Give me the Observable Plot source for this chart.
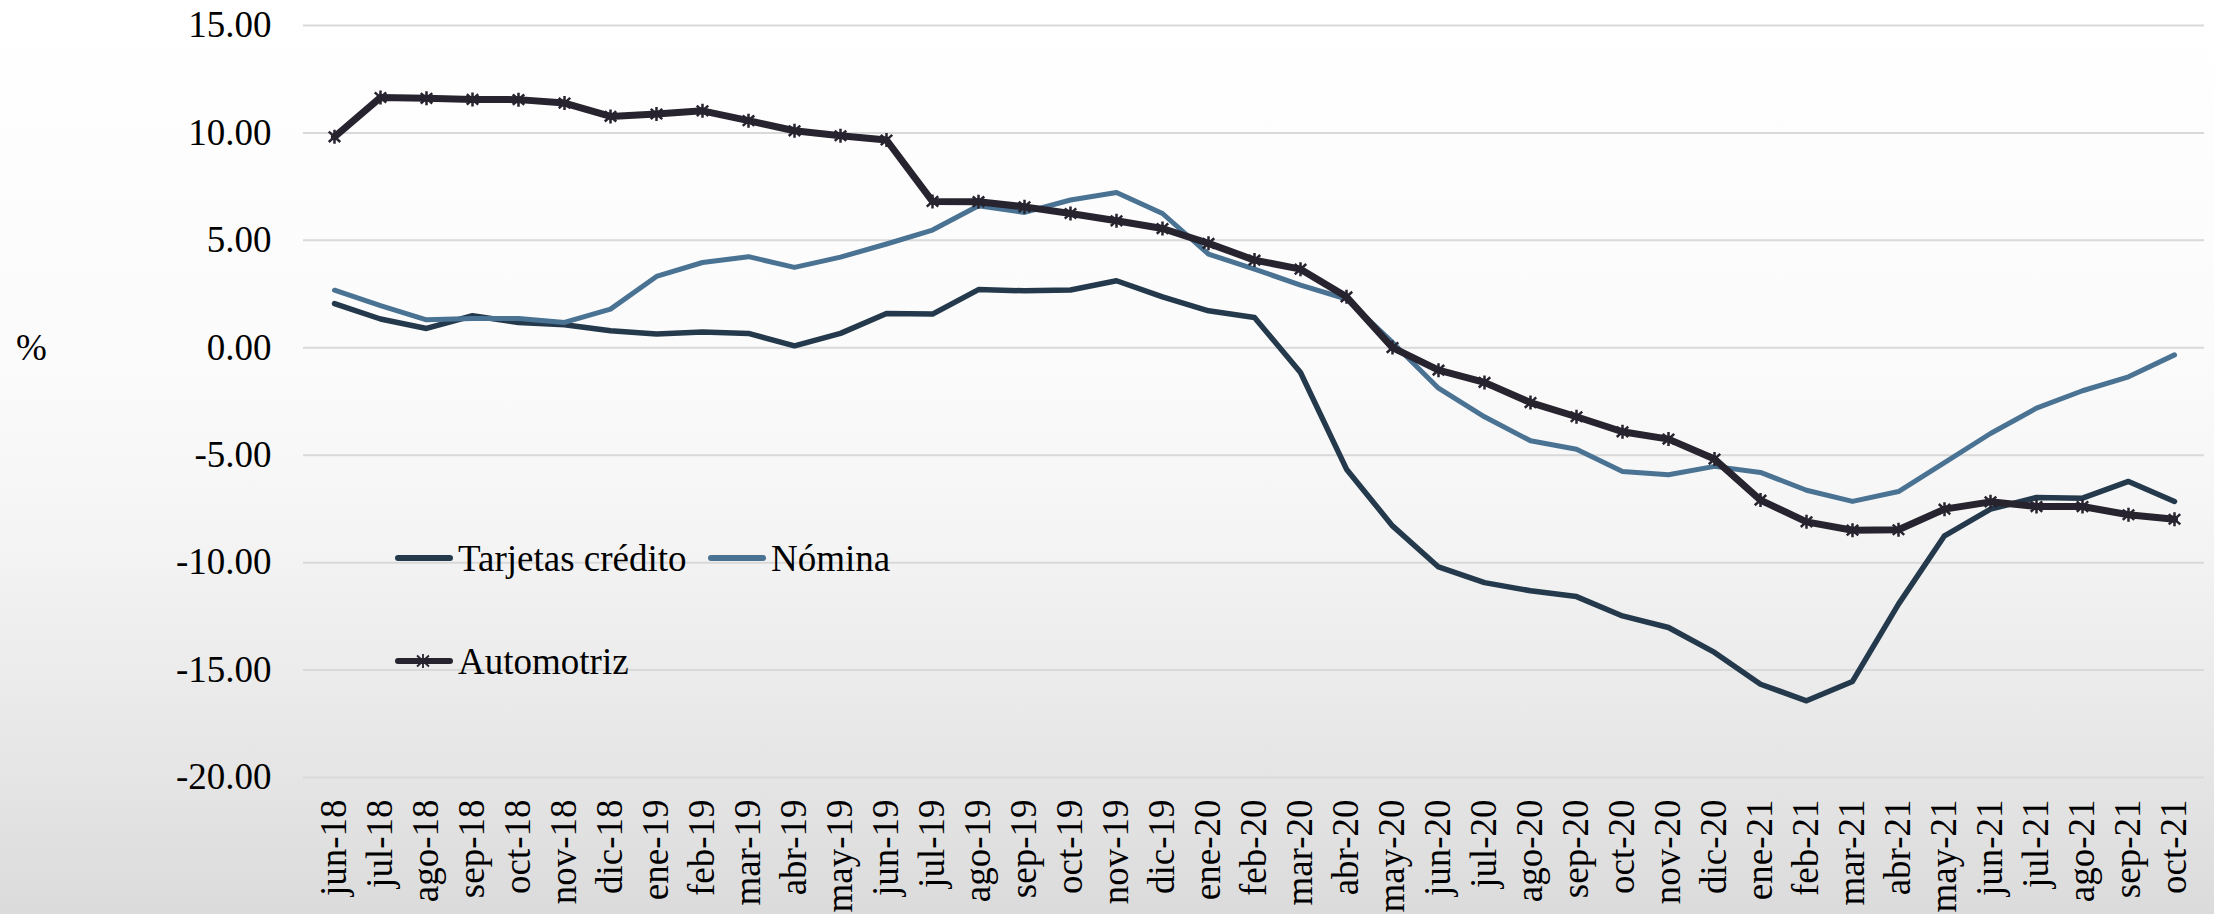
<!DOCTYPE html>
<html>
<head>
<meta charset="utf-8">
<script src="https://cdn.jsdelivr.net/npm/d3@7"></script>
<script src="https://cdn.jsdelivr.net/npm/@observablehq/plot@0.6"></script>
<style>
  html, body { margin: 0; padding: 0; }
  body {
    width: 2214px; height: 914px; overflow: hidden;
    background: linear-gradient(to bottom, #ffffff 0%, #fbfbfb 38%, #f6f6f6 55%, #e8e8e8 80%, #dbdbdb 100%);
    font-family: "Liberation Serif", "Times New Roman", Tinos, "DejaVu Serif", serif;
  }
  #wrap { position: relative; width: 2214px; height: 914px; }
  #chart svg { display: block; }
  #chart svg text { font-family: "Liberation Serif", "Times New Roman", Tinos, "DejaVu Serif", serif; }
  .unit { position: absolute; left: 16px; top: 326px; font-size: 37px; color: #000; }
  .leg { position: absolute; display: flex; align-items: center; font-size: 37px; color: #000; height: 44px; }
  .leg svg { display: block; margin-right: 4px; }
</style>
</head>
<body>
<div id="wrap">
  <div id="chart"></div>
  <div class="unit">%</div>
  <div id="legend"></div>
</div>
<script>
const months = ["jun-18","jul-18","ago-18","sep-18","oct-18","nov-18","dic-18",
  "ene-19","feb-19","mar-19","abr-19","may-19","jun-19","jul-19","ago-19","sep-19","oct-19","nov-19","dic-19",
  "ene-20","feb-20","mar-20","abr-20","may-20","jun-20","jul-20","ago-20","sep-20","oct-20","nov-20","dic-20",
  "ene-21","feb-21","mar-21","abr-21","may-21","jun-21","jul-21","ago-21","sep-21","oct-21"];

const tarjetas = [2.06,1.34,0.90,1.49,1.18,1.07,0.79,0.64,0.74,0.67,
  0.09,0.67,1.60,1.57,2.71,2.65,2.69,3.12,2.37,1.72,
  1.41,-1.15,-5.65,-8.29,-10.20,-10.93,-11.31,-11.58,-12.48,-13.02,
  -14.18,-15.66,-16.43,-15.53,-11.93,-8.75,-7.51,-6.97,-7.00,-6.22,-7.15];

const nomina = [2.68,1.96,1.30,1.36,1.36,1.18,1.80,3.32,3.97,4.24,
  3.74,4.22,4.83,5.48,6.61,6.30,6.88,7.23,6.25,4.36,
  3.66,2.92,2.27,0.25,-1.88,-3.21,-4.33,-4.72,-5.76,-5.91,
  -5.52,-5.80,-6.63,-7.15,-6.69,-5.35,-3.99,-2.81,-2.00,-1.35,-0.33];

const automotriz = [9.82,11.65,11.61,11.56,11.55,11.39,10.77,10.88,11.03,10.57,
  10.10,9.87,9.67,6.81,6.80,6.56,6.25,5.91,5.55,4.86,
  4.08,3.66,2.37,0.01,-1.04,-1.61,-2.55,-3.21,-3.91,-4.25,
  -5.18,-7.09,-8.10,-8.49,-8.47,-7.51,-7.17,-7.39,-7.39,-7.77,-7.98];

const seriesNames = ["Tarjetas crédito", "Nómina", "Automotriz"];
const seriesColors = ["#243a4c", "#4a7293", "#27232f"];
const yTicks = [-20, -15, -10, -5, 0, 5, 10, 15];

const rows = (vals, name) => months.map((m, i) => ({month: m, value: vals[i], serie: name}));
const dT = rows(tarjetas, seriesNames[0]);
const dN = rows(nomina, seriesNames[1]);
const dA = rows(automotriz, seriesNames[2]);

// asterisk symbol (vertical + X)
const asterisk = {
  draw(ctx, size) {
    const r = Math.sqrt(size / Math.PI);
    const d = r * 0.82;
    ctx.moveTo(0, -r); ctx.lineTo(0, r);
    ctx.moveTo(-d, -d * 0.9); ctx.lineTo(d, d * 0.9);
    ctx.moveTo(-d, d * 0.9); ctx.lineTo(d, -d * 0.9);
  }
};

const serif = "'Liberation Serif', 'Times New Roman', Tinos, 'DejaVu Serif', serif";

const chart = Plot.plot({
  width: 2214,
  height: 914,
  marginLeft: 303,
  marginRight: 10,
  marginTop: 25,
  marginBottom: 137,
  style: {background: "transparent", fontFamily: serif, fontSize: "37px", color: "#000"},
  x: {type: "point", domain: months, padding: 0.5, align: 0.5},
  y: {domain: [-20, 15]},
  marks: [
    Plot.ruleY(yTicks, {stroke: "#d9d9d9", strokeWidth: 2}),
    Plot.axisY({ticks: yTicks, tickSize: 0, tickPadding: 32, tickFormat: d => d.toFixed(2), label: null, fontSize: 37, fontFamily: serif}),
    Plot.axisX({tickSize: 0, tickRotate: -90, tickPadding: 22, label: null, fontSize: 37, fontFamily: serif}),
    Plot.line(dT, {x: "month", y: "value", stroke: seriesColors[0], strokeWidth: 5.5}),
    Plot.line(dN, {x: "month", y: "value", stroke: seriesColors[1], strokeWidth: 5}),
    Plot.line(dA, {x: "month", y: "value", stroke: seriesColors[2], strokeWidth: 7}),
    Plot.dot(dA, {x: "month", y: "value", symbol: asterisk, r: 7, stroke: seriesColors[2], strokeWidth: 2.5, fill: "none"})
  ]
});
document.getElementById("chart").appendChild(chart);

// legend
const legendPos = [
  {left: 394, top: 536},
  {left: 707, top: 536},
  {left: 394, top: 639}
];
const legend = document.getElementById("legend");
seriesNames.forEach((name, i) => {
  const div = document.createElement("div");
  div.className = "leg";
  div.style.left = legendPos[i].left + "px";
  div.style.top = legendPos[i].top + "px";
  const marker = i === 2
    ? `<path d="M29,15 L29,29 M23,16.5 L35,27.5 M23,27.5 L35,16.5" stroke="${seriesColors[i]}" stroke-width="1.8" fill="none"/>`
    : "";
  div.innerHTML = `<svg width="60" height="44"><line x1="4" y1="22" x2="56" y2="22" stroke="${seriesColors[i]}" stroke-width="6" stroke-linecap="round"/>${marker}</svg><span>${name}</span>`;
  legend.appendChild(div);
});
</script>
</body>
</html>
